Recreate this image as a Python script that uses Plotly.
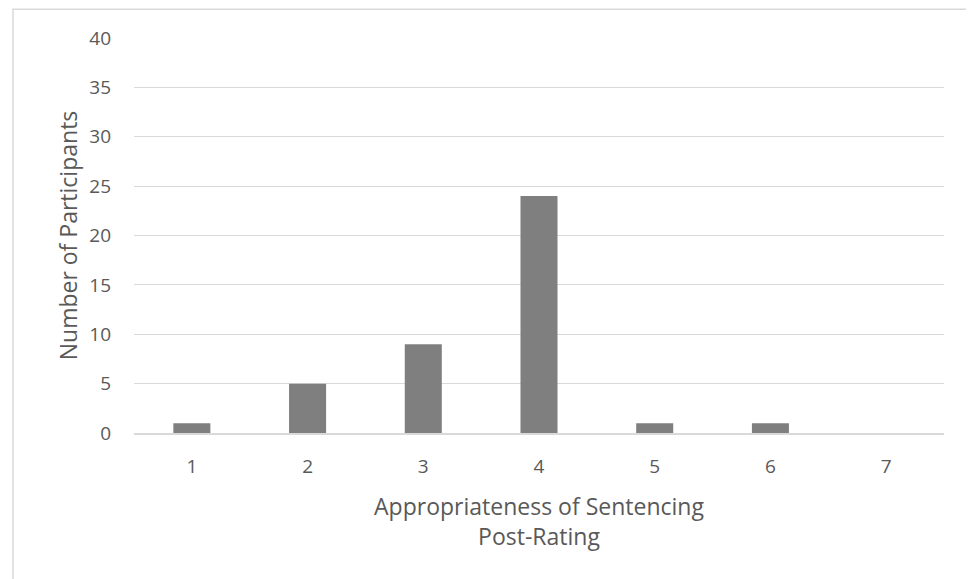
import plotly.graph_objects as go

categories = ["1", "2", "3", "4", "5", "6", "7"]
participants = [1, 5, 9, 24, 1, 1, 0]
y_ticks = [0, 5, 10, 15, 20, 25, 30, 35, 40]

fig = go.Figure(go.Bar(x=categories, y=participants, marker=dict(color="#7f7f7f", line=dict(width=0)), width=0.32))

fig.update_layout(
    width=966, height=571,
    margin=dict(l=126, r=30, t=30, b=146),
    paper_bgcolor="white", plot_bgcolor="white",
    font=dict(family="Open Sans, Liberation Sans, sans-serif", color="#595959", size=15),
    showlegend=False,
    xaxis=dict(type="category", showgrid=False, ticks="", showline=True, linecolor="#d9d9d9", linewidth=1.5,
               tickfont=dict(size=19), ticklabelstandoff=15,
               title=dict(text="Appropriateness of Sentencing<br>Post-Rating", font=dict(size=23), standoff=21)),
    yaxis=dict(range=[0, 40], tickvals=y_ticks, showgrid=True, gridcolor="#d9d9d9", gridwidth=1.2,
               zeroline=False, ticks="", tickfont=dict(size=19), ticklabelstandoff=22,
               title=dict(text="Number of Participants", font=dict(size=23), standoff=5)),
    shapes=[dict(type="rect", xref="paper", yref="paper", x0=-0.1494, x1=1.032, y0=-0.40, y1=1.073,
                 line=dict(color="#d9d9d9", width=1.5), fillcolor="rgba(0,0,0,0)", layer="below")],
)

fig.write_html("out.html")
